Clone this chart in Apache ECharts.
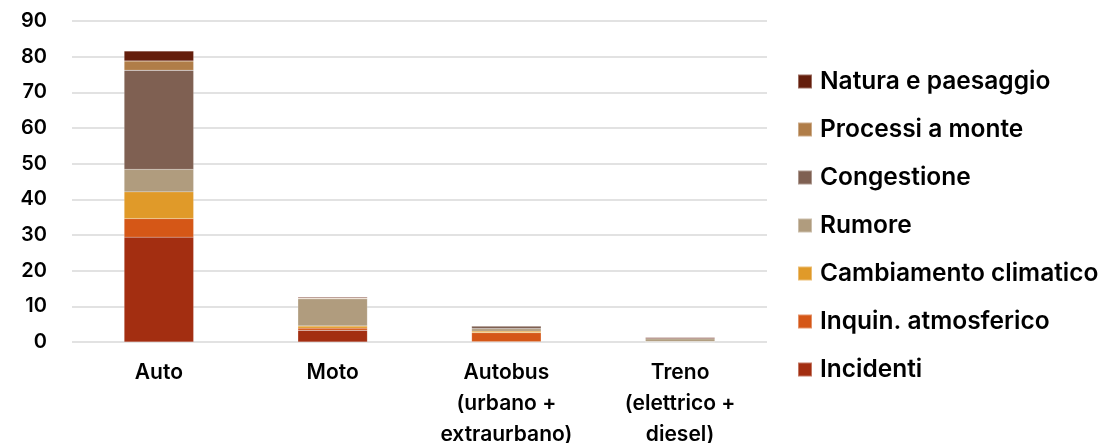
<!DOCTYPE html>
<html>
<head>
<meta charset="utf-8">
<script src="https://cdn.jsdelivr.net/npm/echarts@6/dist/echarts.min.js"></script>
<style>html,body{margin:0;padding:0;background:#fff;}#c{width:1109px;height:443px;}</style>
</head>
<body>
<div id="c"></div>
<script>
const categories = ['Auto', 'Moto', 'Autobus\n(urbano +\nextraurbano)', 'Treno\n(elettrico +\ndiesel)'];
const yTicks = [0, 10, 20, 30, 40, 50, 60, 70, 80, 90];
const seriesNames = ['Incidenti', 'Inquin. atmosferico', 'Cambiamento climatico', 'Rumore', 'Congestione', 'Processi a monte', 'Natura e paesaggio'];
const incidenti    = [29.4, 3.3, 0.1, 0.05];
const inquinamento = [5.2, 0.6, 2.5, 0.05];
const clima        = [7.5, 0.6, 0.45, 0.05];
const rumore       = [6.3, 7.6, 0.65, 0.75];
const congestione  = [27.8, 0.1, 0.75, 0.0];
const processi     = [2.6, 0.2, 0.1, 0.05];
const natura       = [2.8, 0.3, 0.1, 0.3];
const values = [incidenti, inquinamento, clima, rumore, congestione, processi, natura];
const colors = ['#A32E11', '#D55717', '#E09A29', '#B09C7E', '#7F6052', '#B07D48', '#641E0C'];

const FONT = 'Inter';
const chart = echarts.init(document.getElementById('c'));
chart.setOption({
  animation: false,
  grid: { left: 72, right: 342, top: 21, bottom: 101, containLabel: false, outerBoundsMode: 'none' },
  xAxis: {
    type: 'category',
    data: categories,
    axisLine: { show: false },
    axisTick: { show: false },
    axisLabel: { color: '#000', fontFamily: FONT, fontWeight: 600, fontSize: 21, lineHeight: 31, margin: 15, interval: 0 }
  },
  yAxis: {
    type: 'value',
    min: yTicks[0], max: yTicks[yTicks.length - 1], interval: 10,
    axisLine: { show: false },
    axisTick: { show: false },
    splitLine: { lineStyle: { color: '#d9d9d9', width: 1.5 } },
    axisLabel: { color: '#000', fontFamily: FONT, fontWeight: 600, fontSize: 20, margin: 25 }
  },
  legend: {
    orient: 'vertical',
    left: 792, top: 64,
    icon: 'rect',
    itemWidth: 14, itemHeight: 14,
    itemGap: 23,
    data: seriesNames.slice().reverse(),
    textStyle: { color: '#000', fontFamily: FONT, fontWeight: 600, fontSize: 24.5, lineHeight: 24, padding: [0, 0, 0, 3] }
  },
  series: seriesNames.map((n, i) => ({
    name: n,
    type: 'bar',
    stack: 'tot',
    barWidth: '40%',
    data: values[i],
    itemStyle: { color: colors[i], borderColor: 'rgba(255,255,255,0.35)', borderWidth: 0.4 }
  }))
});
</script>
</body>
</html>
